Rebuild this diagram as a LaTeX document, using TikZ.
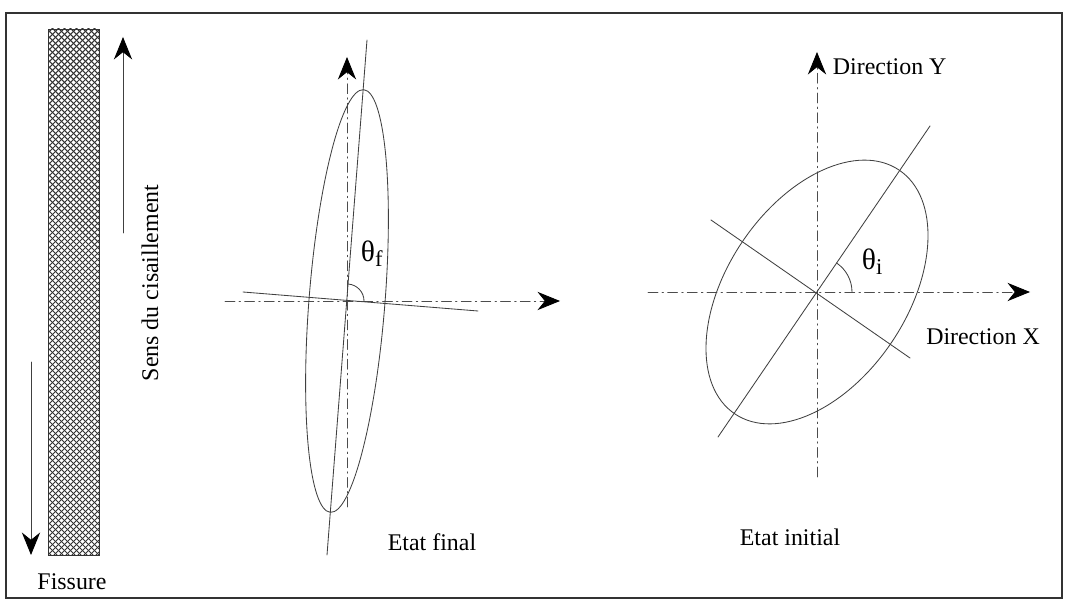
\documentclass[tikz,border=0pt]{standalone}
\usepackage{fontspec}
\setmainfont{Liberation Serif}
\usetikzlibrary{arrows.meta}

\tikzset{
  axe/.style={black!70, line width=0.6pt, dash pattern=on 7pt off 3pt on 1pt off 3pt},
  trait/.style={black!75, line width=0.6pt},
  fleche/.style={-{Stealth[length=16pt,width=13pt,black]}},
  hachure/.style={black!80, line width=0.75pt},
  angle/.style={font=\fontsize{21}{24}\selectfont},
}

\begin{document}
\begin{tikzpicture}[x=0.025cm, y=-0.025cm, line cap=round, font=\fontsize{17}{20}\selectfont]
  \useasboundingbox (0,0) rectangle (1067,602);
  \draw[line width=1.2pt, black!80] (6,13) rectangle (1062,598);

  % fissure: hatched band
  \begin{scope}
    \clip (48,29) rectangle (99,555);
    \foreach \c in {-30,-24,...,560} {
      \draw[hachure] (48,\c) -- (99,\c+51);
      \draw[hachure] (48,\c+51) -- (99,\c);
    }
  \end{scope}
  \draw[black!80, line width=0.6pt] (48,29) rectangle (99,555);
  \node (fissure) at (72,582) {Fissure};

  % shear sense
  \coordinate (hautA) at (123,233);
  \coordinate (hautB) at (123,37);
  \draw[trait, fleche] (hautA) -- (hautB);
  \coordinate (basA) at (31,362);
  \coordinate (basB) at (31,555);
  \draw[trait, fleche] (basA) -- (basB);
  \node[rotate=90] (sens) at (150,283) {Sens du cisaillement};

  % final state: stretched ellipse, nearly vertical
  \coordinate (cf) at (347,301);
  \draw[axe, fleche] (347,507) coordinate (yfA) -- (347,57) coordinate (yfB);
  \draw[axe, fleche] (225,301) coordinate (xfA) -- (560,301) coordinate (xfB);
  \draw[trait, shift={(cf)}, rotate=85.5] (0,0) ellipse [x radius=212, y radius=38];
  \coordinate (grandF1) at (327,555);
  \coordinate (grandF2) at (367,40);
  \draw[trait] (grandF1) -- (grandF2);
  \coordinate (petitF1) at (243,292);
  \coordinate (petitF2) at (478,311);
  \draw[trait] (petitF1) -- (petitF2);
  \draw[trait] (cf) ++(17,0) arc[start angle=0, end angle=-85.5, radius=17];
  \node[angle, anchor=west] (thetaf) at (356,254) {θ\raisebox{-0.35ex}{\fontsize{16}{18}\selectfont f}};
  \node (final) at (432,542) {Etat final};

  % initial state: ellipse at theta_i
  \coordinate (ci) at (817,292);
  \draw[axe, fleche] (817,477) coordinate (yiA) -- (817,52) coordinate (yiB);
  \draw[axe, fleche] (648,292) coordinate (xiA) -- (1030,292) coordinate (xiB);
  \draw[trait, shift={(ci)}, rotate=56] (0,0) ellipse [x radius=147, y radius=90];
  \coordinate (grandI1) at (718,437);
  \coordinate (grandI2) at (930,126);
  \draw[trait] (grandI1) -- (grandI2);
  \coordinate (petitI1) at (711,220);
  \coordinate (petitI2) at (910,358);
  \draw[trait] (petitI1) -- (petitI2);
  \draw[trait] (ci) ++(35,0) arc[start angle=0, end angle=-56, radius=35];
  \node[angle, anchor=west] (thetai) at (857,262) {θ\raisebox{-0.35ex}{\fontsize{16}{18}\selectfont i}};
  \node[anchor=west] (dirY) at (828,67) {Direction Y};
  \node (dirX) at (983,337) {Direction X};
  \node (initial) at (790,537) {Etat initial};
\end{tikzpicture}
\end{document}
